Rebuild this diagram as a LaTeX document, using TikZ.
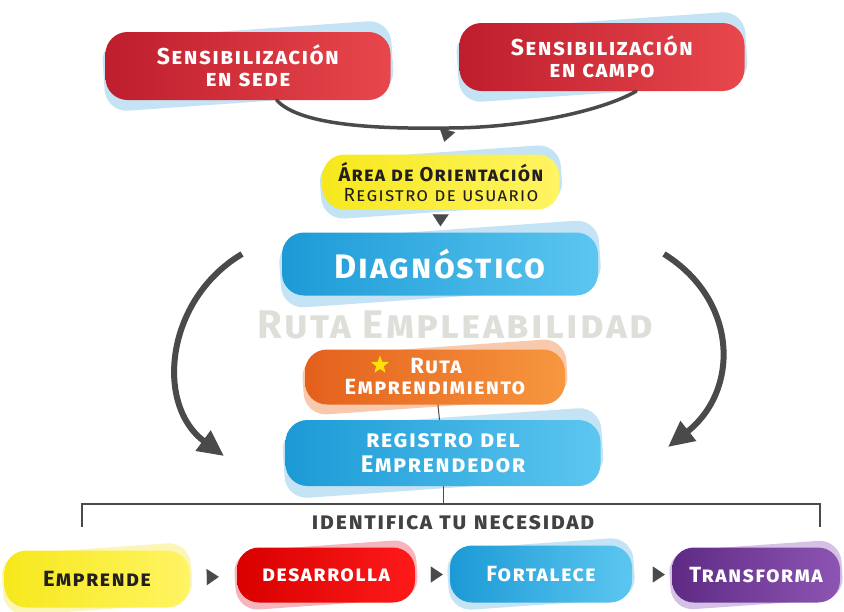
\documentclass[tikz,border=0pt]{standalone}
\usepackage{fontspec}
\setmainfont{Fira Sans}[LetterSpace=6]
\usetikzlibrary{positioning,arrows.meta,shapes.geometric,fit,backgrounds}

\definecolor{redA}{HTML}{BE1E2D}
\definecolor{redB}{HTML}{E8474C}
\definecolor{yelA}{HTML}{F6E81C}
\definecolor{yelB}{HTML}{FFF463}
\definecolor{bluA}{HTML}{1C9AD6}
\definecolor{bluB}{HTML}{5CC6F0}
\definecolor{oraA}{HTML}{E4601C}
\definecolor{oraB}{HTML}{F7973F}
\definecolor{purA}{HTML}{5E2A84}
\definecolor{purB}{HTML}{8D55B3}
\definecolor{glowblue}{HTML}{C4E3F4}
\definecolor{glowpeach}{HTML}{F9C9AE}
\definecolor{glowpink}{HTML}{F6B5BC}
\definecolor{glowyel}{HTML}{FBF6B8}
\definecolor{glowpur}{HTML}{D6C1E6}
\definecolor{linegray}{HTML}{4A4A4A}
\definecolor{fadegray}{HTML}{DFDFD9}
\definecolor{inkdark}{HTML}{231F20}
\definecolor{staryel}{HTML}{FFE10A}

\begin{document}
\begin{tikzpicture}[x=1pt,y=-1pt,
   font=\bfseries\scshape,
   pill/.style={rounded corners=22pt,align=center,text=white,inner sep=0pt},
   redpill/.style={pill,left color=redA,right color=redB},
   yelpill/.style={pill,left color=yelA,right color=yelB,text=inkdark},
   blupill/.style={pill,left color=bluA,right color=bluB},
   orapill/.style={pill,left color=oraA,right color=oraB},
   purpill/.style={pill,left color=purA,right color=purB},
   halo/.style={rounded corners=22pt,fill=#1,rotate=4,inner sep=2pt},
   curl/.style={linegray,line width=3.5pt,line cap=round},
   swoop/.style={linegray,line width=6pt,-{Triangle[length=26pt,width=24pt]}},
   tip/.style={linegray,line width=0.1pt,-{Triangle[length=12pt,width=16pt]}},
   stem/.style={linegray,line width=1pt},
   fork/.style={linegray,line width=1.6pt}]
\useasboundingbox (0,0) rectangle (844,611);

% red top boxes
\node[redpill,minimum width=285pt,minimum height=68pt,font=\bfseries\scshape\fontsize{23}{22}\selectfont] (sede) at (248,66) {Sensibilización\\en sede};
\node[redpill,minimum width=285pt,minimum height=68pt,font=\bfseries\scshape\fontsize{23}{22}\selectfont] (campo) at (602,57) {Sensibilización\\en campo};

% orientation and diagnosis
\node[yelpill,minimum width=237pt,minimum height=55pt,font=\bfseries\scshape\fontsize{20}{20}\selectfont] (orient) at (441,182) {Área de Orientación\\{\mdseries\fontsize{19}{19}\selectfont Registro de usuario}};
\node[blupill,minimum width=316pt,minimum height=63pt,font=\bfseries\scshape\fontsize{34}{36}\selectfont] (diag) at (440,264) {Diagnóstico};

\node[text=fadegray,font=\bfseries\scshape\fontsize{40}{42}\selectfont] (empleo) at (455,325) {Ruta Empleabilidad};

% entrepreneurship route
\node[orapill,minimum width=260pt,minimum height=55pt,font=\bfseries\scshape\fontsize{22}{21}\selectfont] (empr) at (435,377) {\hspace*{2pt}Ruta\\Emprendimiento};
\node[star,star points=5,star point ratio=2.4,fill=staryel,minimum size=19pt,inner sep=0pt] (star) at (380,365) {};
\node[blupill,minimum width=315pt,minimum height=66pt,font=\bfseries\scshape\fontsize{24}{25}\selectfont] (regi) at (443,453) {registro del\\Emprendedor};

\node[text=inkdark!85,font=\bfseries\scshape\fontsize{24}{24}\selectfont] (need) at (453,523) {identifica tu necesidad};

% four steps
\node[yelpill,minimum width=185pt,minimum height=57pt,font=\bfseries\scshape\fontsize{22}{22}\selectfont] (emprende) at (97,579) {Emprende};
\node[redpill,left color=red!85!black,right color=red!90!white,minimum width=178pt,minimum height=55pt,font=\bfseries\scshape\fontsize{22}{22}\selectfont] (desarrolla) at (326,575) {desarrolla};
\node[blupill,minimum width=182pt,minimum height=57pt,font=\bfseries\scshape\fontsize{22}{22}\selectfont] (fortalece) at (541,574) {Fortalece};
\node[purpill,minimum width=168pt,minimum height=55pt,font=\bfseries\scshape\fontsize{22}{22}\selectfont] (transforma) at (756,575) {Transforma};

% soft copies behind the boxes
\begin{scope}[on background layer]
\node[halo=glowblue,fit=(sede)] {};
\node[halo=glowblue,fit=(campo)] {};
\node[halo=glowblue,fit=(orient)] {};
\node[halo=glowblue,fit=(diag)] {};
\node[halo=glowpeach,fit=(empr)] {};
\node[halo=glowblue,fit=(regi)] {};
\node[halo=glowyel,fit=(emprende)] {};
\node[halo=glowpink,fit=(desarrolla)] {};
\node[halo=glowblue,fit=(fortalece)] {};
\node[halo=glowpur,fit=(transforma)] {};
\end{scope}

% connectors
\coordinate (join) at (448,128);
\draw[curl] (sede.-50) .. controls (300,126) and (380,129) .. (join) .. controls (520,128) and (600,112) .. (campo.-45);
\draw[tip,shorten >=13pt] (join) -- (orient.north);
\draw[tip,shorten <=5pt,shorten >=6pt] (orient) -- (diag);

\coordinate (lt) at (242,254);
\coordinate (lb) at (224,456);
\coordinate (rt) at (664,254);
\coordinate (rb) at (668,447);
\draw[swoop] (lt) .. controls (165,300) and (155,405) .. (lb);
\draw[swoop] (rt) .. controls (738,300) and (740,390) .. (rb);

\draw[stem] (empr) -- (regi);
\coordinate (split) at (443,504);
\coordinate (forkL) at (82,527);
\coordinate (forkR) at (820,527);
\draw[stem] (regi) -- (split);
\draw[fork] (forkL) |- (split) -| (forkR);

\draw[tip,shorten <=17pt,shorten >=18pt] (emprende) -- (desarrolla);
\draw[tip,shorten <=16pt,shorten >=7pt] (desarrolla) -- (fortalece);
\draw[tip,shorten <=21pt,shorten >=7pt] (fortalece) -- (transforma);
\end{tikzpicture}
\end{document}
